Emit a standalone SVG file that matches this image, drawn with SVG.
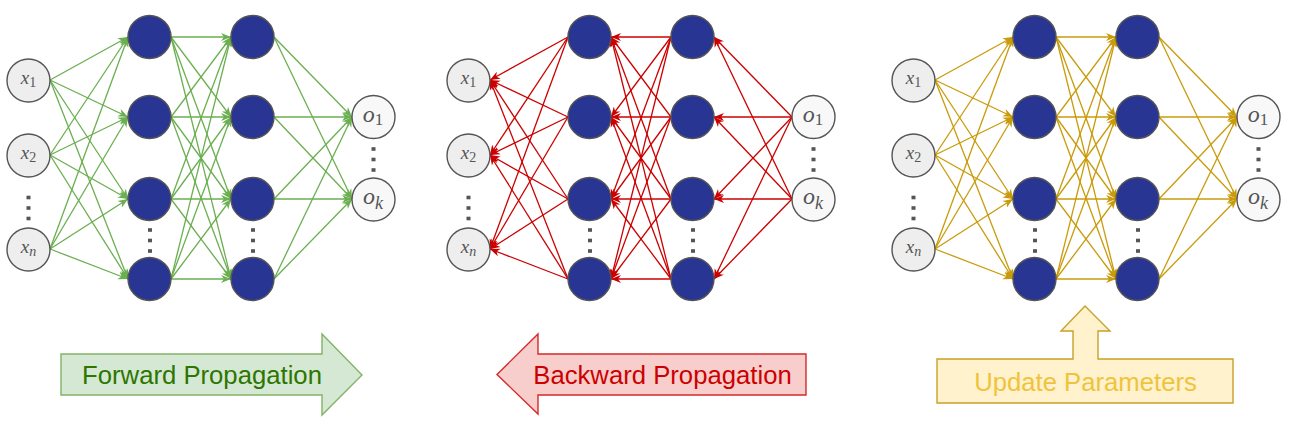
<svg xmlns="http://www.w3.org/2000/svg" width="1292" height="428" viewBox="0 0 1292 428">
<style>
.in{fill:#eeeeee;stroke:#555555;stroke-width:1.4}
.out{fill:#f8f8f8;stroke:#555555;stroke-width:1.4}
.hid{fill:#283593;stroke:#555555;stroke-width:1.4}
.lbl{font-family:"Liberation Serif",serif;fill:#555555}
.it{font-style:italic}
.dot{fill:#555555}
.eg line{stroke:#6aaf50;stroke-width:1.3;marker-end:url(#ag)}
.er line{stroke:#cc0000;stroke-width:1.3;marker-end:url(#ar)}
.ey line{stroke:#c99b0a;stroke-width:1.3;marker-end:url(#ay)}
.big{font-family:"Liberation Sans",Arial,sans-serif;font-size:25.7px;text-anchor:middle}
</style>
<defs>
<marker id="ag" markerUnits="userSpaceOnUse" markerWidth="12" markerHeight="10" refX="10" refY="5" orient="auto"><path d="M0,1 L10,5 L0,9 L3,5 Z" fill="#6aaf50"/></marker>
<marker id="ar" markerUnits="userSpaceOnUse" markerWidth="12" markerHeight="10" refX="10" refY="5" orient="auto"><path d="M0,1 L10,5 L0,9 L3,5 Z" fill="#cc0000"/></marker>
<marker id="ay" markerUnits="userSpaceOnUse" markerWidth="12" markerHeight="10" refX="10" refY="5" orient="auto"><path d="M0,1 L10,5 L0,9 L3,5 Z" fill="#c99b0a"/></marker>
</defs>

<!-- Connectors -->
<g id="connectors">
<g id="conn-forward" class="eg">
<line x1="50" y1="80" x2="128" y2="37"/><line x1="50" y1="80" x2="128" y2="117"/><line x1="50" y1="80" x2="128" y2="199"/><line x1="50" y1="80" x2="128" y2="279"/>
<line x1="50" y1="155" x2="128" y2="37"/><line x1="50" y1="155" x2="128" y2="117"/><line x1="50" y1="155" x2="128" y2="199"/><line x1="50" y1="155" x2="128" y2="279"/>
<line x1="50" y1="249" x2="128" y2="37"/><line x1="50" y1="249" x2="128" y2="117"/><line x1="50" y1="249" x2="128" y2="199"/><line x1="50" y1="249" x2="128" y2="279"/>
<line x1="171" y1="37" x2="231" y2="37"/><line x1="171" y1="37" x2="231" y2="117"/><line x1="171" y1="37" x2="231" y2="199"/><line x1="171" y1="37" x2="231" y2="279"/>
<line x1="171" y1="117" x2="231" y2="37"/><line x1="171" y1="117" x2="231" y2="117"/><line x1="171" y1="117" x2="231" y2="199"/><line x1="171" y1="117" x2="231" y2="279"/>
<line x1="171" y1="199" x2="231" y2="37"/><line x1="171" y1="199" x2="231" y2="117"/><line x1="171" y1="199" x2="231" y2="199"/><line x1="171" y1="199" x2="231" y2="279"/>
<line x1="171" y1="279" x2="231" y2="37"/><line x1="171" y1="279" x2="231" y2="117"/><line x1="171" y1="279" x2="231" y2="199"/><line x1="171" y1="279" x2="231" y2="279"/>
<line x1="274" y1="37" x2="352" y2="117"/><line x1="274" y1="37" x2="352" y2="199"/>
<line x1="274" y1="117" x2="352" y2="117"/><line x1="274" y1="117" x2="352" y2="199"/>
<line x1="274" y1="199" x2="352" y2="117"/><line x1="274" y1="199" x2="352" y2="199"/>
<line x1="274" y1="279" x2="352" y2="117"/><line x1="274" y1="279" x2="352" y2="199"/>
</g>
<g id="conn-backward" class="er" transform="translate(440,0)">
<line x2="50" y2="80" x1="128" y1="37"/><line x2="50" y2="80" x1="128" y1="117"/><line x2="50" y2="80" x1="128" y1="199"/><line x2="50" y2="80" x1="128" y1="279"/>
<line x2="50" y2="155" x1="128" y1="37"/><line x2="50" y2="155" x1="128" y1="117"/><line x2="50" y2="155" x1="128" y1="199"/><line x2="50" y2="155" x1="128" y1="279"/>
<line x2="50" y2="249" x1="128" y1="37"/><line x2="50" y2="249" x1="128" y1="117"/><line x2="50" y2="249" x1="128" y1="199"/><line x2="50" y2="249" x1="128" y1="279"/>
<line x2="171" y2="37" x1="231" y1="37"/><line x2="171" y2="37" x1="231" y1="117"/><line x2="171" y2="37" x1="231" y1="199"/><line x2="171" y2="37" x1="231" y1="279"/>
<line x2="171" y2="117" x1="231" y1="37"/><line x2="171" y2="117" x1="231" y1="117"/><line x2="171" y2="117" x1="231" y1="199"/><line x2="171" y2="117" x1="231" y1="279"/>
<line x2="171" y2="199" x1="231" y1="37"/><line x2="171" y2="199" x1="231" y1="117"/><line x2="171" y2="199" x1="231" y1="199"/><line x2="171" y2="199" x1="231" y1="279"/>
<line x2="171" y2="279" x1="231" y1="37"/><line x2="171" y2="279" x1="231" y1="117"/><line x2="171" y2="279" x1="231" y1="199"/><line x2="171" y2="279" x1="231" y1="279"/>
<line x2="274" y2="37" x1="352" y1="117"/><line x2="274" y2="37" x1="352" y1="199"/>
<line x2="274" y2="117" x1="352" y1="117"/><line x2="274" y2="117" x1="352" y1="199"/>
<line x2="274" y2="199" x1="352" y1="117"/><line x2="274" y2="199" x1="352" y1="199"/>
<line x2="274" y2="279" x1="352" y1="117"/><line x2="274" y2="279" x1="352" y1="199"/>
</g>
<g id="conn-update" class="ey" transform="translate(885,0)">
<line x1="50" y1="80" x2="128" y2="37"/><line x1="50" y1="80" x2="128" y2="117"/><line x1="50" y1="80" x2="128" y2="199"/><line x1="50" y1="80" x2="128" y2="279"/>
<line x1="50" y1="155" x2="128" y2="37"/><line x1="50" y1="155" x2="128" y2="117"/><line x1="50" y1="155" x2="128" y2="199"/><line x1="50" y1="155" x2="128" y2="279"/>
<line x1="50" y1="249" x2="128" y2="37"/><line x1="50" y1="249" x2="128" y2="117"/><line x1="50" y1="249" x2="128" y2="199"/><line x1="50" y1="249" x2="128" y2="279"/>
<line x1="171" y1="37" x2="231" y2="37"/><line x1="171" y1="37" x2="231" y2="117"/><line x1="171" y1="37" x2="231" y2="199"/><line x1="171" y1="37" x2="231" y2="279"/>
<line x1="171" y1="117" x2="231" y2="37"/><line x1="171" y1="117" x2="231" y2="117"/><line x1="171" y1="117" x2="231" y2="199"/><line x1="171" y1="117" x2="231" y2="279"/>
<line x1="171" y1="199" x2="231" y2="37"/><line x1="171" y1="199" x2="231" y2="117"/><line x1="171" y1="199" x2="231" y2="199"/><line x1="171" y1="199" x2="231" y2="279"/>
<line x1="171" y1="279" x2="231" y2="37"/><line x1="171" y1="279" x2="231" y2="117"/><line x1="171" y1="279" x2="231" y2="199"/><line x1="171" y1="279" x2="231" y2="279"/>
<line x1="274" y1="37" x2="352" y2="117"/><line x1="274" y1="37" x2="352" y2="199"/>
<line x1="274" y1="117" x2="352" y2="117"/><line x1="274" y1="117" x2="352" y2="199"/>
<line x1="274" y1="199" x2="352" y2="117"/><line x1="274" y1="199" x2="352" y2="199"/>
<line x1="274" y1="279" x2="352" y2="117"/><line x1="274" y1="279" x2="352" y2="199"/>
</g>
</g>

<!-- Network nodes (three copies) -->
<g id="net-forward">
<g id="f-x1"><circle class="in" cx="28.5" cy="80.5" r="21.5"/><text class="lbl" x="28.5" y="84" font-size="19" text-anchor="middle"><tspan class="it">x</tspan><tspan font-size="14" dy="2.5">1</tspan></text></g>
<g id="f-x2"><circle class="in" cx="28.5" cy="155.5" r="21.5"/><text class="lbl" x="28.5" y="159" font-size="19" text-anchor="middle"><tspan class="it">x</tspan><tspan font-size="14" dy="2.5">2</tspan></text></g>
<g id="f-xn"><circle class="in" cx="28.5" cy="249.5" r="21.5"/><text class="lbl" x="28.5" y="253" font-size="19" text-anchor="middle"><tspan class="it">x</tspan><tspan class="it" font-size="14" dy="2.5">n</tspan></text></g>
<g id="f-h11"><circle class="hid" cx="149.5" cy="37" r="21.5"/></g>
<g id="f-h12"><circle class="hid" cx="149.5" cy="117" r="21.5"/></g>
<g id="f-h13"><circle class="hid" cx="149.5" cy="199" r="21.5"/></g>
<g id="f-h14"><circle class="hid" cx="149.5" cy="279" r="21.5"/></g>
<g id="f-h21"><circle class="hid" cx="252.5" cy="37" r="21.5"/></g>
<g id="f-h22"><circle class="hid" cx="252.5" cy="117" r="21.5"/></g>
<g id="f-h23"><circle class="hid" cx="252.5" cy="199" r="21.5"/></g>
<g id="f-h24"><circle class="hid" cx="252.5" cy="279" r="21.5"/></g>
<g id="f-o1"><circle class="out" cx="373.5" cy="117" r="21.5"/><text class="lbl" x="373" y="122" font-size="24" text-anchor="middle"><tspan class="it">o</tspan><tspan font-size="17" dy="3">1</tspan></text></g>
<g id="f-ok"><circle class="out" cx="373.5" cy="199.5" r="21.5"/><text class="lbl" x="373" y="204" font-size="24" text-anchor="middle"><tspan class="it">o</tspan><tspan class="it" font-size="18" dy="4.5">k</tspan></text></g>
<g id="f-dots">
<rect class="dot" x="26.5" y="195.7" width="4" height="3.6"/><rect class="dot" x="26.5" y="206.2" width="4" height="3.6"/><rect class="dot" x="26.5" y="216.7" width="4" height="3.6"/>
<rect class="dot" x="148" y="228.2" width="4" height="3.6"/><rect class="dot" x="148" y="238.7" width="4" height="3.6"/><rect class="dot" x="148" y="249.2" width="4" height="3.6"/>
<rect class="dot" x="251" y="228.2" width="4" height="3.6"/><rect class="dot" x="251" y="238.7" width="4" height="3.6"/><rect class="dot" x="251" y="249.2" width="4" height="3.6"/>
<rect class="dot" x="371.5" y="147.2" width="4" height="3.6"/><rect class="dot" x="371.5" y="157.7" width="4" height="3.6"/><rect class="dot" x="371.5" y="168.2" width="4" height="3.6"/>
</g>
</g>

<g id="net-backward" transform="translate(440,0)">
<g id="b-x1"><circle class="in" cx="28.5" cy="80.5" r="21.5"/><text class="lbl" x="28.5" y="84" font-size="19" text-anchor="middle"><tspan class="it">x</tspan><tspan font-size="14" dy="2.5">1</tspan></text></g>
<g id="b-x2"><circle class="in" cx="28.5" cy="155.5" r="21.5"/><text class="lbl" x="28.5" y="159" font-size="19" text-anchor="middle"><tspan class="it">x</tspan><tspan font-size="14" dy="2.5">2</tspan></text></g>
<g id="b-xn"><circle class="in" cx="28.5" cy="249.5" r="21.5"/><text class="lbl" x="28.5" y="253" font-size="19" text-anchor="middle"><tspan class="it">x</tspan><tspan class="it" font-size="14" dy="2.5">n</tspan></text></g>
<g id="b-h11"><circle class="hid" cx="149.5" cy="37" r="21.5"/></g>
<g id="b-h12"><circle class="hid" cx="149.5" cy="117" r="21.5"/></g>
<g id="b-h13"><circle class="hid" cx="149.5" cy="199" r="21.5"/></g>
<g id="b-h14"><circle class="hid" cx="149.5" cy="279" r="21.5"/></g>
<g id="b-h21"><circle class="hid" cx="252.5" cy="37" r="21.5"/></g>
<g id="b-h22"><circle class="hid" cx="252.5" cy="117" r="21.5"/></g>
<g id="b-h23"><circle class="hid" cx="252.5" cy="199" r="21.5"/></g>
<g id="b-h24"><circle class="hid" cx="252.5" cy="279" r="21.5"/></g>
<g id="b-o1"><circle class="out" cx="373.5" cy="117" r="21.5"/><text class="lbl" x="373" y="122" font-size="24" text-anchor="middle"><tspan class="it">o</tspan><tspan font-size="17" dy="3">1</tspan></text></g>
<g id="b-ok"><circle class="out" cx="373.5" cy="199.5" r="21.5"/><text class="lbl" x="373" y="204" font-size="24" text-anchor="middle"><tspan class="it">o</tspan><tspan class="it" font-size="18" dy="4.5">k</tspan></text></g>
<g id="b-dots">
<rect class="dot" x="26.5" y="195.7" width="4" height="3.6"/><rect class="dot" x="26.5" y="206.2" width="4" height="3.6"/><rect class="dot" x="26.5" y="216.7" width="4" height="3.6"/>
<rect class="dot" x="148" y="228.2" width="4" height="3.6"/><rect class="dot" x="148" y="238.7" width="4" height="3.6"/><rect class="dot" x="148" y="249.2" width="4" height="3.6"/>
<rect class="dot" x="251" y="228.2" width="4" height="3.6"/><rect class="dot" x="251" y="238.7" width="4" height="3.6"/><rect class="dot" x="251" y="249.2" width="4" height="3.6"/>
<rect class="dot" x="371.5" y="147.2" width="4" height="3.6"/><rect class="dot" x="371.5" y="157.7" width="4" height="3.6"/><rect class="dot" x="371.5" y="168.2" width="4" height="3.6"/>
</g>
</g>

<g id="net-update" transform="translate(885,0)">
<g id="u-x1"><circle class="in" cx="28.5" cy="80.5" r="21.5"/><text class="lbl" x="28.5" y="84" font-size="19" text-anchor="middle"><tspan class="it">x</tspan><tspan font-size="14" dy="2.5">1</tspan></text></g>
<g id="u-x2"><circle class="in" cx="28.5" cy="155.5" r="21.5"/><text class="lbl" x="28.5" y="159" font-size="19" text-anchor="middle"><tspan class="it">x</tspan><tspan font-size="14" dy="2.5">2</tspan></text></g>
<g id="u-xn"><circle class="in" cx="28.5" cy="249.5" r="21.5"/><text class="lbl" x="28.5" y="253" font-size="19" text-anchor="middle"><tspan class="it">x</tspan><tspan class="it" font-size="14" dy="2.5">n</tspan></text></g>
<g id="u-h11"><circle class="hid" cx="149.5" cy="37" r="21.5"/></g>
<g id="u-h12"><circle class="hid" cx="149.5" cy="117" r="21.5"/></g>
<g id="u-h13"><circle class="hid" cx="149.5" cy="199" r="21.5"/></g>
<g id="u-h14"><circle class="hid" cx="149.5" cy="279" r="21.5"/></g>
<g id="u-h21"><circle class="hid" cx="252.5" cy="37" r="21.5"/></g>
<g id="u-h22"><circle class="hid" cx="252.5" cy="117" r="21.5"/></g>
<g id="u-h23"><circle class="hid" cx="252.5" cy="199" r="21.5"/></g>
<g id="u-h24"><circle class="hid" cx="252.5" cy="279" r="21.5"/></g>
<g id="u-o1"><circle class="out" cx="373.5" cy="117" r="21.5"/><text class="lbl" x="373" y="122" font-size="24" text-anchor="middle"><tspan class="it">o</tspan><tspan font-size="17" dy="3">1</tspan></text></g>
<g id="u-ok"><circle class="out" cx="373.5" cy="199.5" r="21.5"/><text class="lbl" x="373" y="204" font-size="24" text-anchor="middle"><tspan class="it">o</tspan><tspan class="it" font-size="18" dy="4.5">k</tspan></text></g>
<g id="u-dots">
<rect class="dot" x="26.5" y="195.7" width="4" height="3.6"/><rect class="dot" x="26.5" y="206.2" width="4" height="3.6"/><rect class="dot" x="26.5" y="216.7" width="4" height="3.6"/>
<rect class="dot" x="148" y="228.2" width="4" height="3.6"/><rect class="dot" x="148" y="238.7" width="4" height="3.6"/><rect class="dot" x="148" y="249.2" width="4" height="3.6"/>
<rect class="dot" x="251" y="228.2" width="4" height="3.6"/><rect class="dot" x="251" y="238.7" width="4" height="3.6"/><rect class="dot" x="251" y="249.2" width="4" height="3.6"/>
<rect class="dot" x="371.5" y="147.2" width="4" height="3.6"/><rect class="dot" x="371.5" y="157.7" width="4" height="3.6"/><rect class="dot" x="371.5" y="168.2" width="4" height="3.6"/>
</g>
</g>

<!-- Big arrows -->
<g id="arrow-forward">
<polygon points="61,354 322,354 322,334 362,375 322,415 322,395 61,395" fill="#d5e8d4" stroke="#82b366" stroke-width="1.4"/>
<text class="big" x="202" y="384" fill="#2d7600">Forward Propagation</text>
</g>
<g id="arrow-backward">
<polygon points="806,354 538,354 538,334 497,374.5 538,414 538,395 806,395" fill="#f8cecc" stroke="#d42a2a" stroke-width="1.4"/>
<text class="big" x="662.5" y="384" fill="#cc0000">Backward Propagation</text>
</g>
<g id="arrow-update">
<polygon points="937,359 1073,359 1073,331 1061,331 1085,306 1110,331 1098,331 1098,359 1233,359 1233,403 937,403" fill="#fff2cc" stroke="#c9a02a" stroke-width="1.4"/>
<text class="big" x="1085.5" y="391" fill="#f0c33c">Update Parameters</text>
</g>
</svg>
